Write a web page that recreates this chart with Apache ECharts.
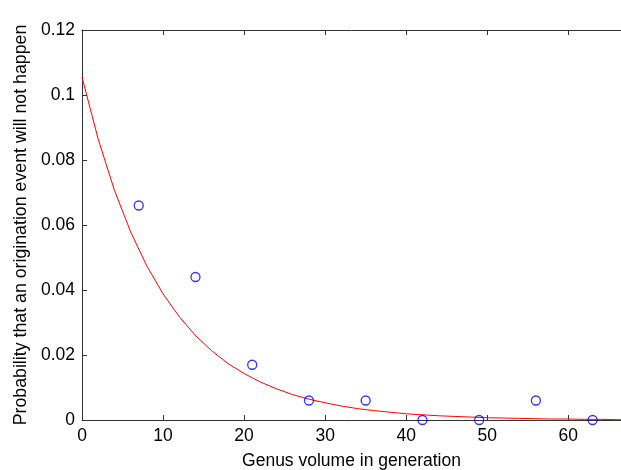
<!DOCTYPE html>
<html>
<head>
<meta charset="utf-8">
<script src="https://cdn.jsdelivr.net/npm/echarts@6/dist/echarts.min.js"></script>
<style>
  html, body { margin: 0; padding: 0; background: #fff; }
  #chart { width: 621px; height: 470px; }
</style>
</head>
<body>
<div id="chart"></div>
<script>
// observed points (blue circles)
const genusVolume = [7, 14, 21, 28, 35, 42, 49, 56, 63];
const probability = [0.066, 0.044, 0.017, 0.006, 0.006, 0, 0, 0.006, 0];

// fitted curve (red line), every 2 units
const fitX = [0, 2, 4, 6, 8, 10, 12, 14, 16, 18, 20, 22, 24, 26, 28, 30, 32, 34,
  36, 38, 40, 42, 44, 46, 48, 50, 52, 54, 56, 58, 60, 62, 64, 66, 66.5];
const fitY = [0.1055, 0.0864, 0.0707, 0.0579, 0.0474, 0.0388, 0.0318, 0.0260,
  0.0213, 0.0174, 0.0143, 0.0117, 0.0096, 0.0078, 0.0064, 0.0053, 0.0043,
  0.0035, 0.0029, 0.0024, 0.0019, 0.0016, 0.0013, 0.0011, 0.0009, 0.0007,
  0.0006, 0.0005, 0.0004, 0.0003, 0.0003, 0.0002, 0.0002, 0.0001, 0.0001];

const xTitle = 'Genus volume in generation';
const yTitle = 'Probability that an origination event will not happen';

const font = 'Liberation Sans, Arial, sans-serif';
const fontSize = 17.5;
const chart = echarts.init(document.getElementById('chart'));

const option = {
  animation: false,
  grid: { left: 82, right: 0, top: 30, bottom: 50, outerBoundsMode: 'none', containLabel: false },
  xAxis: [
    {
      type: 'value',
      min: 0,
      max: 66.5,
      interval: 10,
      name: xTitle,
      nameLocation: 'middle',
      nameGap: 32,
      nameTextStyle: { color: '#000', fontSize: fontSize, fontFamily: font },
      axisLine: { lineStyle: { color: '#333', width: 1 } },
      axisTick: { inside: true, length: 5, lineStyle: { color: '#333' } },
      axisLabel: { color: '#000', fontSize: fontSize, fontFamily: font, margin: 7, showMaxLabel: false },
      splitLine: { show: false },
    },
    {
      type: 'value',
      position: 'top',
      min: 0,
      max: 66.5,
      interval: 10,
      axisLine: { show: true, lineStyle: { color: '#333', width: 1 } },
      axisTick: { show: true, inside: true, length: 5, lineStyle: { color: '#333' } },
      axisLabel: { show: false },
      splitLine: { show: false },
    },
  ],
  yAxis: {
    type: 'value',
    min: 0,
    max: 0.12,
    interval: 0.02,
    name: yTitle,
    nameLocation: 'middle',
    nameGap: 50,
    nameTextStyle: { color: '#000', fontSize: 17.75, fontFamily: font },
    axisLine: { show: true, lineStyle: { color: '#333', width: 1 } },
    axisTick: { show: true, inside: true, length: 5, lineStyle: { color: '#333' } },
    axisLabel: { color: '#000', fontSize: fontSize, fontFamily: font, margin: 7 },
    splitLine: { show: false },
  },
  series: [
    {
      name: 'fit',
      type: 'line',
      data: fitX.map((x, i) => [x, fitY[i]]),
      symbol: 'none',
      lineStyle: { color: '#ff0000', width: 1 },
      z: 2,
    },
    {
      name: 'observed',
      type: 'scatter',
      data: genusVolume.map((x, i) => [x, probability[i]]),
      symbol: 'circle',
      symbolSize: 9,
      itemStyle: { color: 'rgba(0,0,0,0)', borderColor: '#0000ff', borderWidth: 1.3 },
      z: 3,
    },
  ],
};

chart.setOption(option);
</script>
</body>
</html>
